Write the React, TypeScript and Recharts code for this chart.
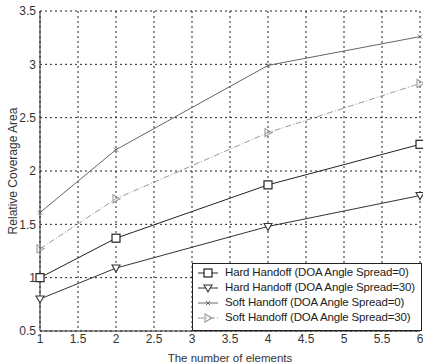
import { LineChart, Line, XAxis, YAxis, CartesianGrid } from "recharts";

const elementos = [1, 2, 4, 6];
const hard0 = [1.0, 1.37, 1.87, 2.25];
const hard30 = [0.8, 1.09, 1.48, 1.77];
const soft0 = [1.61, 2.2, 2.99, 3.26];
const soft30 = [1.27, 1.74, 2.36, 2.82];

const xTicks = [1, 1.5, 2, 2.5, 3, 3.5, 4, 4.5, 5, 5.5, 6];
const yTicks = [0.5, 1, 1.5, 2, 2.5, 3, 3.5];

const datos = elementos.map((n, i) => ({
  n,
  hard0: hard0[i],
  hard30: hard30[i],
  soft0: soft0[i],
  soft30: soft30[i],
}));

type Forma = "square" | "tdown" | "x" | "tright";

interface Serie {
  key: string;
  label: string;
  color: string;
  dash?: string;
  forma: Forma;
}

const series: Serie[] = [
  { key: "hard0", label: "Hard Handoff (DOA Angle Spread=0)", color: "#222", forma: "square" },
  { key: "hard30", label: "Hard Handoff (DOA Angle Spread=30)", color: "#333", forma: "tdown" },
  { key: "soft0", label: "Soft Handoff (DOA Angle Spread=0)", color: "#666", forma: "x" },
  { key: "soft30", label: "Soft Handoff (DOA Angle Spread=30)", color: "#999", dash: "6 2 1 2", forma: "tright" },
];

function Marca({ cx, cy, forma, color }: { cx: number; cy: number; forma: Forma; color: string }) {
  const s = 4;
  if (forma === "square")
    return <rect x={cx - s} y={cy - s} width={2 * s} height={2 * s} fill="#fff" stroke={color} strokeWidth={1.2} />;
  if (forma === "tdown")
    return (
      <polygon
        points={`${cx - s},${cy - s + 1} ${cx + s},${cy - s + 1} ${cx},${cy + s}`}
        fill="#fff"
        stroke={color}
        strokeWidth={1.1}
      />
    );
  if (forma === "tright")
    return (
      <polygon
        points={`${cx - s + 1},${cy - s} ${cx - s + 1},${cy + s} ${cx + s},${cy}`}
        fill="none"
        stroke={color}
        strokeWidth={1.1}
      />
    );
  return (
    <g stroke={color} strokeWidth={1}>
      <line x1={cx - 2} y1={cy - 2} x2={cx + 2} y2={cy + 2} />
      <line x1={cx - 2} y1={cy + 2} x2={cx + 2} y2={cy - 2} />
    </g>
  );
}

// leyenda encima del gráfico, para que no le quite ancho al área del plot
function LeyendaCaja() {
  return (
    <div
      style={{
        position: "absolute",
        right: 1,
        top: 263,
        height: 64,
        border: "1.5px solid #222",
        background: "#fff",
        padding: "1px 6px 1px 3px",
        fontSize: 11.5,
        letterSpacing: -0.15,
        color: "#222",
        lineHeight: "15px",
        whiteSpace: "nowrap",
      }}
    >
      {series.map((s) => (
        <div key={s.key} style={{ display: "flex", alignItems: "center" }}>
          <svg width={24} height={15} style={{ marginRight: 5 }}>
            <line x1={2} y1={8} x2={22} y2={8} stroke={s.color} strokeWidth={1} strokeDasharray={s.dash} />
            <Marca cx={12} cy={8} forma={s.forma} color={s.color} />
          </svg>
          <span>{s.label}</span>
        </div>
      ))}
    </div>
  );
}

export default function App() {
  return (
    <div
      style={{
        position: "absolute",
        left: 0,
        top: 0,
        width: 423,
        height: 363,
        background: "#fff",
        fontFamily: "'Liberation Sans', Arial, sans-serif",
      }}
    >
      <LineChart width={423} height={363} data={datos} margin={{ top: 11, right: 3, left: 0, bottom: 0 }}>
        <CartesianGrid stroke="#222" strokeDasharray="2 3" />
        <XAxis
          dataKey="n"
          type="number"
          domain={[1, 6]}
          ticks={xTicks}
          height={32}
          tickLine={false}
          tickSize={0}
          tickMargin={3}
          stroke="#222"
          tick={{ fontSize: 12, fill: "#333" }}
          label={{ value: "The number of elements", position: "insideBottom", offset: 1, fontSize: 11.5, fill: "#333" }}
        />
        <YAxis
          type="number"
          domain={[0.5, 3.5]}
          ticks={yTicks}
          width={40}
          tickLine={false}
          tickSize={0}
          tickMargin={4}
          stroke="#222"
          tick={{ fontSize: 12, fill: "#333" }}
          label={{
            value: "Relative Coverage Area",
            angle: -90,
            position: "insideLeft",
            offset: 13,
            fontSize: 12,
            fill: "#333",
            style: { textAnchor: "middle" },
          }}
        />
        {series.map((s) => (
          <Line
            key={s.key}
            dataKey={s.key}
            type="linear"
            stroke={s.color}
            strokeWidth={1}
            strokeDasharray={s.dash}
            isAnimationActive={false}
            dot={(p: any) => <Marca key={`${s.key}-${p.index}`} cx={p.cx} cy={p.cy} forma={s.forma} color={s.color} />}
            activeDot={false}
          />
        ))}
      </LineChart>
      <LeyendaCaja />
    </div>
  );
}
